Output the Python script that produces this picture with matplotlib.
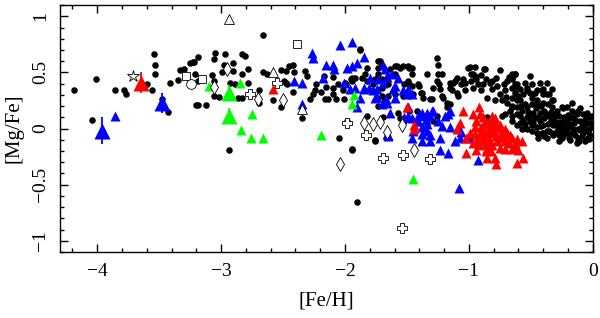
import numpy as np
import matplotlib
matplotlib.use("Agg")
import matplotlib.pyplot as plt
from matplotlib.ticker import MultipleLocator, FuncFormatter

plt.rcParams['font.family'] = ['Liberation Serif', 'DejaVu Serif']
plt.rcParams['font.size'] = 14

# --- field stars (black dots): [Fe/H], [Mg/Fe]
field = [
    # metal-poor end
    (-4.19, 0.34), (-4.01, 0.44), (-4.04, 0.08), (-3.86, 0.34), (-3.78, 0.34), (-3.77, 0.31),
    (-3.60, 0.40), (-3.56, 0.34), (-3.54, 0.66), (-3.53, 0.57), (-3.53, 0.49), (-3.48, 0.26),
    (-3.43, 0.15), (-3.41, 0.41), (-3.35, 0.43), (-3.33, 0.52), (-3.30, 0.53), (-3.25, 0.58),
    (-3.22, 0.59), (-3.19, 0.64), (-3.20, 0.21), (-3.19, 0.42),
    # -3.2 .. -1.7
    (-2.66, 0.83), (-3.23, 0.59), (-3.21, 0.49), (-3.05, 0.67), (-2.97, 0.66), (-3.06, 0.62),
    (-2.98, 0.57), (-2.90, 0.58), (-2.83, 0.66), (-2.81, 0.65), (-2.99, 0.50), (-2.90, 0.51),
    (-2.83, 0.49), (-2.78, 0.53), (-3.07, 0.48), (-3.06, 0.42), (-2.93, 0.41), (-2.89, 0.40),
    (-2.78, 0.41), (-3.06, 0.29), (-3.02, 0.28), (-3.19, 0.21), (-3.12, 0.21), (-2.86, 0.27),
    (-2.83, 0.27), (-2.69, 0.34), (-2.69, 0.23), (-2.66, 0.50), (-2.63, 0.49), (-2.58, 0.25),
    (-2.52, 0.19), (-2.52, 0.52), (-2.48, 0.51), (-2.45, 0.56), (-2.42, 0.57), (-2.41, 0.50),
    (-2.49, 0.42), (-2.48, 0.41), (-2.47, 0.40), (-2.42, 0.33), (-2.35, 0.09), (-2.32, 0.51),
    (-2.31, 0.47), (-2.23, 0.40), (-2.24, 0.34), (-2.26, 0.31), (-2.28, 0.26), (-2.19, 0.33),
    (-2.17, 0.47), (-2.16, 0.26), (-2.14, 0.26), (-2.10, 0.46), (-2.10, 0.36), (-2.10, 0.31),
    (-2.07, 0.26), (-2.06, 0.40), (-2.15, 0.37), (-2.02, 0.34), (-2.01, 0.26), (-2.05, -0.08),
    (-1.95, 0.44), (-1.94, 0.45), (-1.99, 0.40), (-1.88, 0.70), (-1.86, 0.45), (-1.94, -0.19),
    (-1.76, -0.10), (-1.72, 0.60), (-1.73, 0.54), (-1.73, 0.49), (-1.70, 0.44), (-1.69, 0.10),
    (-2.94, -0.19), (-1.90, -0.65),
    (-1.88, 0.71), (-1.73, 0.60), (-1.82, 0.54), (-1.70, 0.56), (-1.58, 0.56), (-1.48, 0.54),
    (-1.60, 0.49), (-1.65, 0.47), (-1.84, 0.49), (-1.92, 0.45), (-1.94, 0.42), (-1.82, 0.42),
    (-1.76, 0.44), (-1.77, 0.40), (-1.70, 0.36), (-1.65, 0.40), (-1.52, 0.40), (-1.46, 0.38),
    (-1.41, 0.40), (-1.38, 0.32), (-1.37, 0.27), (-1.30, 0.26), (-1.53, 0.29), (-1.60, 0.31),
    (-1.65, 0.29), (-1.70, 0.29), (-1.68, 0.25), (-1.73, 0.20), (-1.57, 0.14), (-1.56, 0.09),
    (-1.52, 0.07), (-1.42, 0.16), (-1.33, 0.09), (-1.48, 0.16), (-1.76, -0.11), (-1.94, -0.18),
    (-1.98, 0.07), (-1.82, 0.11), (-2.00, 0.41),
    # thick / thin disc
    (-1.64, 0.53), (-1.60, 0.56), (-1.56, 0.54), (-1.53, 0.56), (-1.49, 0.56), (-1.46, 0.54),
    (-1.46, 0.49), (-1.49, 0.42), (-1.48, 0.40), (-1.50, 0.32), (-1.45, 0.31), (-1.40, 0.38),
    (-1.39, 0.32), (-1.34, 0.49), (-1.31, 0.26), (-1.26, 0.63), (-1.25, 0.57), (-1.25, 0.49),
    (-1.22, 0.49), (-1.26, 0.42), (-1.24, 0.40), (-1.23, 0.35), (-1.22, 0.29), (-1.18, 0.23),
    (-1.15, 0.41), (-1.11, 0.42), (-1.14, 0.34), (-1.10, 0.32), (-1.05, 0.44), (-1.03, 0.41),
    (-1.01, 0.54), (-0.98, 0.49), (-0.95, 0.47), (-0.94, 0.44), (-0.97, 0.36), (-0.93, 0.40),
    (-0.89, 0.40), (-0.88, 0.53), (-0.90, 0.34), (-0.83, 0.41), (-0.81, 0.42), (-0.81, 0.35),
    (-0.77, 0.38), (-0.85, 0.27), (-0.79, 0.25), (-0.75, 0.31), (-0.73, 0.25), (-0.71, 0.34),
    (-0.69, 0.42), (-0.65, 0.49), (-0.63, 0.49), (-0.65, 0.44), (-0.61, 0.40), (-0.65, 0.36),
    (-0.63, 0.32), (-0.60, 0.29), (-0.65, 0.27), (-0.69, 0.23), (-0.65, 0.20), (-0.61, 0.19),
    (-0.59, 0.25), (-0.56, 0.31), (-0.53, 0.36), (-0.51, 0.32), (-0.49, 0.40), (-0.45, 0.34),
    (-0.43, 0.41), (-0.40, 0.35), (-0.37, 0.31), (-0.33, 0.35), (-0.32, 0.25), (-0.36, 0.22),
    (-0.40, 0.23), (-0.45, 0.25), (-0.49, 0.22), (-0.53, 0.19), (-0.57, 0.16), (-0.52, 0.11),
    (-0.48, 0.14), (-0.43, 0.14), (-0.39, 0.16), (-0.33, 0.19), (-0.29, 0.16), (-0.25, 0.19),
    (-0.21, 0.19), (-0.17, 0.16), (-0.13, 0.13), (-0.10, 0.18), (-0.08, 0.13), (-0.05, 0.10),
    (-0.01, 0.11), (-0.02, 0.05), (-0.06, 0.04), (-0.10, 0.07), (-0.15, 0.05), (-0.19, 0.09),
    (-0.23, 0.10), (-0.27, 0.11), (-0.31, 0.10), (-0.35, 0.11), (-0.39, 0.09), (-0.43, 0.07),
    (-0.47, 0.09), (-0.51, 0.07), (-0.53, 0.10), (-0.59, 0.11), (-0.61, 0.13), (-0.67, 0.16),
    (-0.71, 0.13), (-0.65, 0.11), (-0.59, 0.05), (-0.55, 0.04), (-0.49, 0.03), (-0.45, 0.01),
    (-0.40, 0.03), (-0.36, 0.04), (-0.32, 0.03), (-0.28, 0.04), (-0.24, 0.03), (-0.20, 0.01),
    (-0.16, 0.00), (-0.12, 0.00), (-0.08, 0.01), (-0.04, -0.02), (-0.01, 0.01), (-0.02, -0.06),
    (-0.08, -0.04), (-0.12, -0.08), (-0.16, -0.04), (-0.21, -0.04), (-0.25, -0.04), (-0.29, -0.02),
    (-0.33, -0.04), (-0.37, -0.02), (-0.41, -0.04), (-0.45, -0.04), (-0.49, -0.02), (-0.53, 0.00),
    (-0.57, 0.00), (-0.61, 0.03), (-0.65, 0.07), (-0.11, -0.11), (-0.19, -0.08), (-0.25, -0.08),
    (-0.32, -0.06), (-0.37, -0.08), (-0.44, -0.08), (-0.27, -0.11), (-0.13, -0.13), (-0.06, -0.11),
    (-1.29, 0.36), (-1.21, 0.27), (-1.15, 0.36), (-1.13, 0.41), (-1.10, 0.45), (-1.06, 0.40),
    (-0.99, 0.55), (-0.95, 0.55), (-0.87, 0.53), (-0.97, 0.49), (-0.98, 0.42), (-1.03, 0.34),
    (-1.09, 0.29), (-1.15, 0.22), (-1.18, 0.19), (-1.26, 0.11), (-1.29, 0.07), (-0.85, 0.10),
    (-0.73, 0.11),
    (-0.17, 0.23), (-0.24, 0.18), (-0.12, 0.16), (-0.05, 0.14), (-0.02, 0.10), (-0.01, 0.05),
    (-0.05, -0.02), (-0.12, -0.11), (-0.04, -0.08), (-0.20, -0.04), (-0.27, -0.06), (-0.40, -0.04),
    (-0.35, -0.02), (-0.28, 0.01), (-0.51, 0.47), (-0.63, 0.49), (-0.65, 0.45), (-0.63, 0.40),
    (-0.59, 0.35), (-0.53, 0.34), (-0.47, 0.32), (-0.41, 0.34), (-0.37, 0.41), (-0.40, 0.31),
    (-0.35, 0.31), (-0.33, 0.25), (-0.45, 0.23), (-0.49, 0.27), (-0.55, 0.22), (-0.61, 0.25),
    (-0.65, 0.19),
    (-0.20, 0.12), (-0.14, 0.08), (-0.09, 0.02), (-0.03, 0.00), (-0.07, 0.07), (-0.18, 0.04),
    (-0.26, 0.06), (-0.30, 0.13), (-0.38, 0.13), (-0.44, 0.10), (-0.50, 0.12), (-0.56, 0.08),
    (-0.42, 0.20), (-0.34, 0.07), (-0.22, -0.01), (-0.14, -0.06), (-0.03, -0.09), (-0.10, -0.01),
    (-0.24, -0.06), (-0.48, 0.05), (-0.58, 0.20), (-0.70, 0.28), (-0.62, 0.37), (-0.68, 0.46),
    (-0.55, 0.41), (-0.72, 0.40), (-0.78, 0.45), (-0.86, 0.44), (-0.90, 0.48), (-0.75, 0.52),
    (-0.30, 0.06), (-0.16, 0.10), (-0.06, 0.08), (-0.26, 0.00), (-0.42, 0.02), (-0.52, 0.15),
    (-0.46, 0.18), (-0.34, 0.15), (-0.22, 0.07), (-0.09, -0.07), (-0.18, -0.10), (-0.39, -0.07),
]
field_feh = [p[0] for p in field]
field_mgfe = [p[1] for p in field]

# --- blue triangles
blue_feh = [-3.86, -2.27, -2.26, -2.04, -1.94, -1.85, -1.90, -1.94, -1.98, -2.15, -2.10, -2.09,
            -2.18, -2.41, -2.35, -2.35, -2.01, -1.96, -1.92, -1.88, -1.90, -1.85, -1.81, -1.77,
            -1.80, -1.73, -1.74, -1.69, -1.68, -1.66, -1.70, -1.67, -1.61, -1.57, -1.65, -1.76,
            -1.69, -1.53, -1.60, -1.49, -1.49, -1.52, -1.40, -1.37, -1.31, -1.29, -1.42, -1.34,
            -1.22, -1.25, -1.17, -1.15, -1.19, -1.45, -1.38, -1.31, -1.23, -1.17, -1.15, -1.09,
            -1.11, -1.07, -1.23, -1.06, -0.99, -0.93, -1.66, -1.08, -1.62, -1.60, -1.49, -1.46,
            -1.50, -1.85, -1.74, -1.66, -1.64, -1.46, -1.38, -1.34, -1.30, -1.35, -1.41, -1.38,
            -1.34, -1.31, -1.38, -1.46, -1.65]
blue_mgfe = [0.11, 0.67, 0.63, 0.74, 0.77, 0.64, 0.58, 0.56, 0.54, 0.57, 0.57, 0.53,
             0.45, 0.42, 0.41, 0.22, 0.41, 0.35, 0.36, 0.27, 0.19, 0.36, 0.36, 0.34,
             0.45, 0.44, 0.35, 0.57, 0.53, 0.46, 0.22, 0.26, 0.35, 0.45, -0.06, 0.27,
             0.41, 0.34, 0.27, 0.19, 0.11, 0.10, 0.13, 0.11, 0.11, 0.16, 0.07, 0.04,
             0.02, 0.07, 0.13, 0.16, 0.11, -0.02, -0.05, -0.11, -0.19, -0.22, 0.01, 0.01,
             -0.11, -0.08, -0.08, -0.03, -0.08, -0.28, -0.05, -0.53, 0.49, 0.38, 0.35, 0.31,
             0.31, 0.35, 0.28, 0.23, 0.14, 0.09, 0.14, 0.14, 0.16, 0.08, 0.07, 0.01,
             -0.02, -0.06, -0.11, -0.08, -0.07]

# --- red triangles
red_feh = [-2.58, -1.50, -1.44, -1.44,
           -1.05, -0.92, -0.97, -0.91, -0.94, -0.89, -0.85, -0.83, -0.90, -0.95, -0.99, -1.02,
           -0.91, -0.85, -0.81, -0.77, -0.75, -0.73, -0.69, -0.65, -0.61, -0.57, -0.71, -0.77,
           -0.83, -0.89, -0.94, -0.85, -0.81, -0.75, -0.71, -0.65, -1.02, -0.85, -0.79, -0.56,
           -0.89, -0.79, -1.07, -1.10, -0.78, -0.61, -0.81, -0.71, -0.67, -0.63, -0.60, -0.94,
           -0.87, -0.80, -0.92, -0.75, -0.68, -0.83, -0.86, -0.95,
           -0.88, -0.84, -0.79, -0.73, -0.97, -0.92, -0.86, -0.78, -0.70, -0.63, -0.90, -0.82]
red_mgfe = [0.35, 0.19, 0.03, 0.00,
            0.16, 0.19, 0.13, 0.13, 0.07, 0.10, 0.05, 0.01, 0.01, 0.01, -0.04, -0.08,
            -0.04, -0.04, -0.04, 0.01, 0.03, -0.04, -0.04, -0.08, -0.09, -0.11, -0.11, -0.11,
            -0.11, -0.11, -0.11, -0.17, -0.15, -0.17, -0.18, -0.18, -0.22, -0.26, -0.26, -0.26,
            0.00, 0.09, 0.05, 0.00, -0.32, -0.31, 0.11, 0.00, -0.06, -0.17, -0.19, -0.19,
            -0.07, -0.02, -0.15, -0.08, -0.13, 0.06, -0.20, -0.05,
            0.04, -0.01, 0.05, 0.00, -0.13, -0.08, -0.14, -0.07, -0.06, -0.13, -0.02, -0.20]

# --- green triangles
green_feh = [-3.10, -2.85, -2.75, -2.84, -2.76, -2.66, -2.19, -1.94, -1.93, -1.45]
green_mgfe = [0.38, 0.41, 0.13, -0.01, -0.08, -0.08, -0.06, 0.22, 0.30, -0.45]

# --- large triangles with error bars
big_feh = [-3.96, -3.65, -3.48, -2.94, -2.94]
big_mgfe = [-0.02, 0.41, 0.23, 0.32, 0.11]
big_err = [0.12, 0.09, 0.09, 0.07, 0.07]
big_col = ['blue', 'red', 'blue', 'lime', 'lime']

# --- open symbols
star_feh, star_mgfe = [-3.71], [0.47]
square_feh, square_mgfe = [-3.28, -3.15, -2.39], [0.47, 0.44, 0.75]
circle_feh, circle_mgfe = [-3.24], [0.40]
otri_feh, otri_mgfe = [-2.94, -2.58, -2.35], [0.98, 0.50, 0.17]
diam_feh = [-2.95, -3.06, -2.70, -2.50, -1.85, -1.77, -1.72, -1.66, -1.54, -1.44, -2.04]
diam_mgfe = [0.53, 0.37, 0.26, 0.25, 0.05, 0.04, 0.06, -0.03, 0.03, -0.19, -0.32]
cross_feh = [-2.77, -2.55, -1.98, -1.83, -1.69, -1.53, -1.31, -1.54]
cross_mgfe = [0.31, 0.41, 0.05, -0.06, -0.26, -0.24, -0.27, -0.89]

fig = plt.figure(figsize=(6.0, 3.18), dpi=100)
ax = fig.add_axes([0.10, 0.2075, 0.888, 0.7765])

ax.plot(field_feh, field_mgfe, 'o', color='black', ms=4.7, mec='none', zorder=2)
ax.plot(blue_feh, blue_mgfe, '^', color='blue', ms=7, mec='none', zorder=3)
ax.plot(red_feh, red_mgfe, '^', color='red', ms=7, mec='none', zorder=3)
ax.plot(green_feh, green_mgfe, '^', color='lime', ms=7, mec='none', zorder=3)

for x, y, e, c in zip(big_feh, big_mgfe, big_err, big_col):
    ax.errorbar(x, y, yerr=e, fmt='^', color=c, ms=11, mec='none',
                elinewidth=1.3, capsize=0, zorder=4)

open_kw = dict(mfc='white', mec='black', mew=0.6, ls='none', zorder=5)
ax.plot(star_feh, star_mgfe, '*', ms=9, **open_kw)
ax.plot(square_feh, square_mgfe, 's', ms=5.5, **open_kw)
ax.plot(circle_feh, circle_mgfe, 'o', ms=7, **open_kw)
ax.plot(otri_feh, otri_mgfe, '^', ms=7, **open_kw)
ax.plot(diam_feh, diam_mgfe, 'd', ms=7.5, **open_kw)
ax.plot(cross_feh, cross_mgfe, 'P', ms=7, **open_kw)

ax.set_xlim(-4.3, 0)
ax.set_ylim(-1.1, 1.1)
ax.xaxis.set_major_locator(MultipleLocator(1))
ax.xaxis.set_minor_locator(MultipleLocator(0.2))
ax.yaxis.set_major_locator(MultipleLocator(0.5))
ax.yaxis.set_minor_locator(MultipleLocator(0.1))
ax.yaxis.set_major_formatter(FuncFormatter(lambda v, p: f'{v:g}'.replace('-', '\u2212')))
ax.tick_params(which='both', direction='in', top=True, right=True, width=1)
ax.tick_params(which='major', length=6, labelsize=14, pad=8)
ax.tick_params(which='minor', length=3)
for lab in ax.get_yticklabels():
    lab.set_rotation(90)
    lab.set_va('center')
for s in ax.spines.values():
    s.set_linewidth(1)

ax.set_xlabel('[Fe/H]', fontsize=15, labelpad=8)
ax.set_ylabel('[Mg/Fe]', fontsize=15, labelpad=6)

fig.savefig('out.png', dpi=100)
